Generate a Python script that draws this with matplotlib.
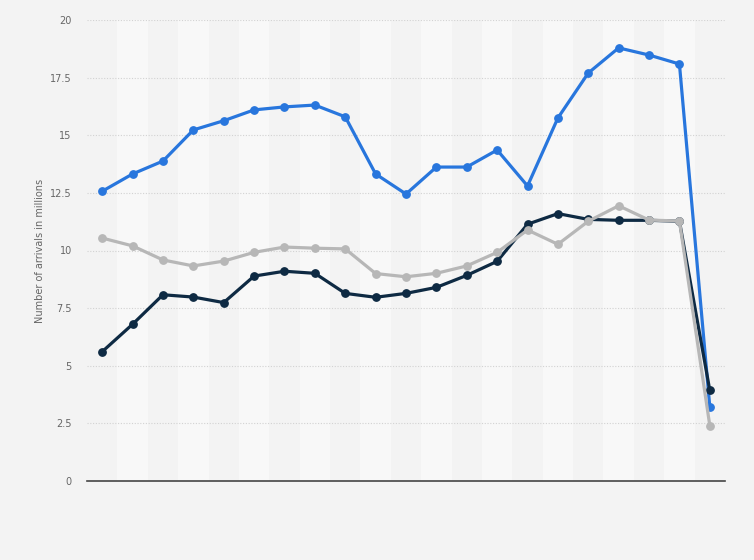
import numpy as np
import matplotlib
matplotlib.use('Agg')
import matplotlib.pyplot as plt

# values (millions of arrivals), 21 periods, no x labels shown
series_blue = [12.57, 13.32, 13.88, 15.23, 15.63, 16.10, 16.23, 16.31, 15.80, 13.32,
               12.45, 13.62, 13.62, 14.36, 12.80, 15.75, 17.70, 18.79, 18.48, 18.09, 3.21]
series_navy = [5.61, 6.80, 8.08, 7.98, 7.74, 8.89, 9.10, 9.01, 8.14, 7.97,
               8.14, 8.40, 8.92, 9.53, 11.14, 11.60, 11.35, 11.31, 11.31, 11.27, 3.93]
series_grey = [10.54, 10.20, 9.59, 9.33, 9.54, 9.92, 10.15, 10.10, 10.07, 9.00,
               8.86, 9.01, 9.33, 9.92, 10.89, 10.27, 11.27, 11.94, 11.32, 11.28, 2.40]

y_ticks = [0, 2.5, 5, 7.5, 10, 12.5, 15, 17.5, 20]
y_ticklabels = ['0', '2.5', '5', '7.5', '10', '12.5', '15', '17.5', '20']

x = np.arange(len(series_blue))

fig = plt.figure(figsize=(7.54, 5.6), dpi=100, facecolor='#f3f3f3')
ax = fig.add_axes([87 / 754, 1 - 481 / 560, (725 - 87) / 754, (481 - 20) / 560])
ax.set_facecolor('#f3f3f3')

# alternating vertical bands, very subtle
for i in x:
    ax.axvspan(i - 0.5, i + 0.5, color='#f8f8f8' if i % 2 else '#f3f3f3', lw=0, zorder=0)

ax.set_xlim(-0.5, len(x) - 0.5)
ax.set_ylim(0, 20)

for yt in y_ticks[1:]:
    ax.axhline(yt, color='#d2d2d2', lw=0.8, ls=(0, (1, 1.5)), zorder=1)

style = dict(lw=2.3, marker='o', ms=5.3, zorder=3, solid_joinstyle='round')
ax.plot(x, series_blue, color='#2876dd', **style)
ax.plot(x, series_navy, color='#0e2a43', **style)
ax.plot(x, series_grey, color='#b7b7b7', **style)

for s in ['top', 'right', 'left']:
    ax.spines[s].set_visible(False)
ax.spines['bottom'].set_color('#444444')
ax.spines['bottom'].set_linewidth(1.2)
ax.spines['bottom'].set_zorder(4)

ax.set_xticks([])
ax.set_yticks(y_ticks)
ax.set_yticklabels(y_ticklabels)
ax.tick_params(axis='y', length=0, pad=11, labelsize=7, labelcolor='#666666')
ax.set_ylabel('Number of arrivals in millions', fontsize=7, color='#666666', labelpad=4)

fig.savefig('out.png', dpi=100, facecolor=fig.get_facecolor())
